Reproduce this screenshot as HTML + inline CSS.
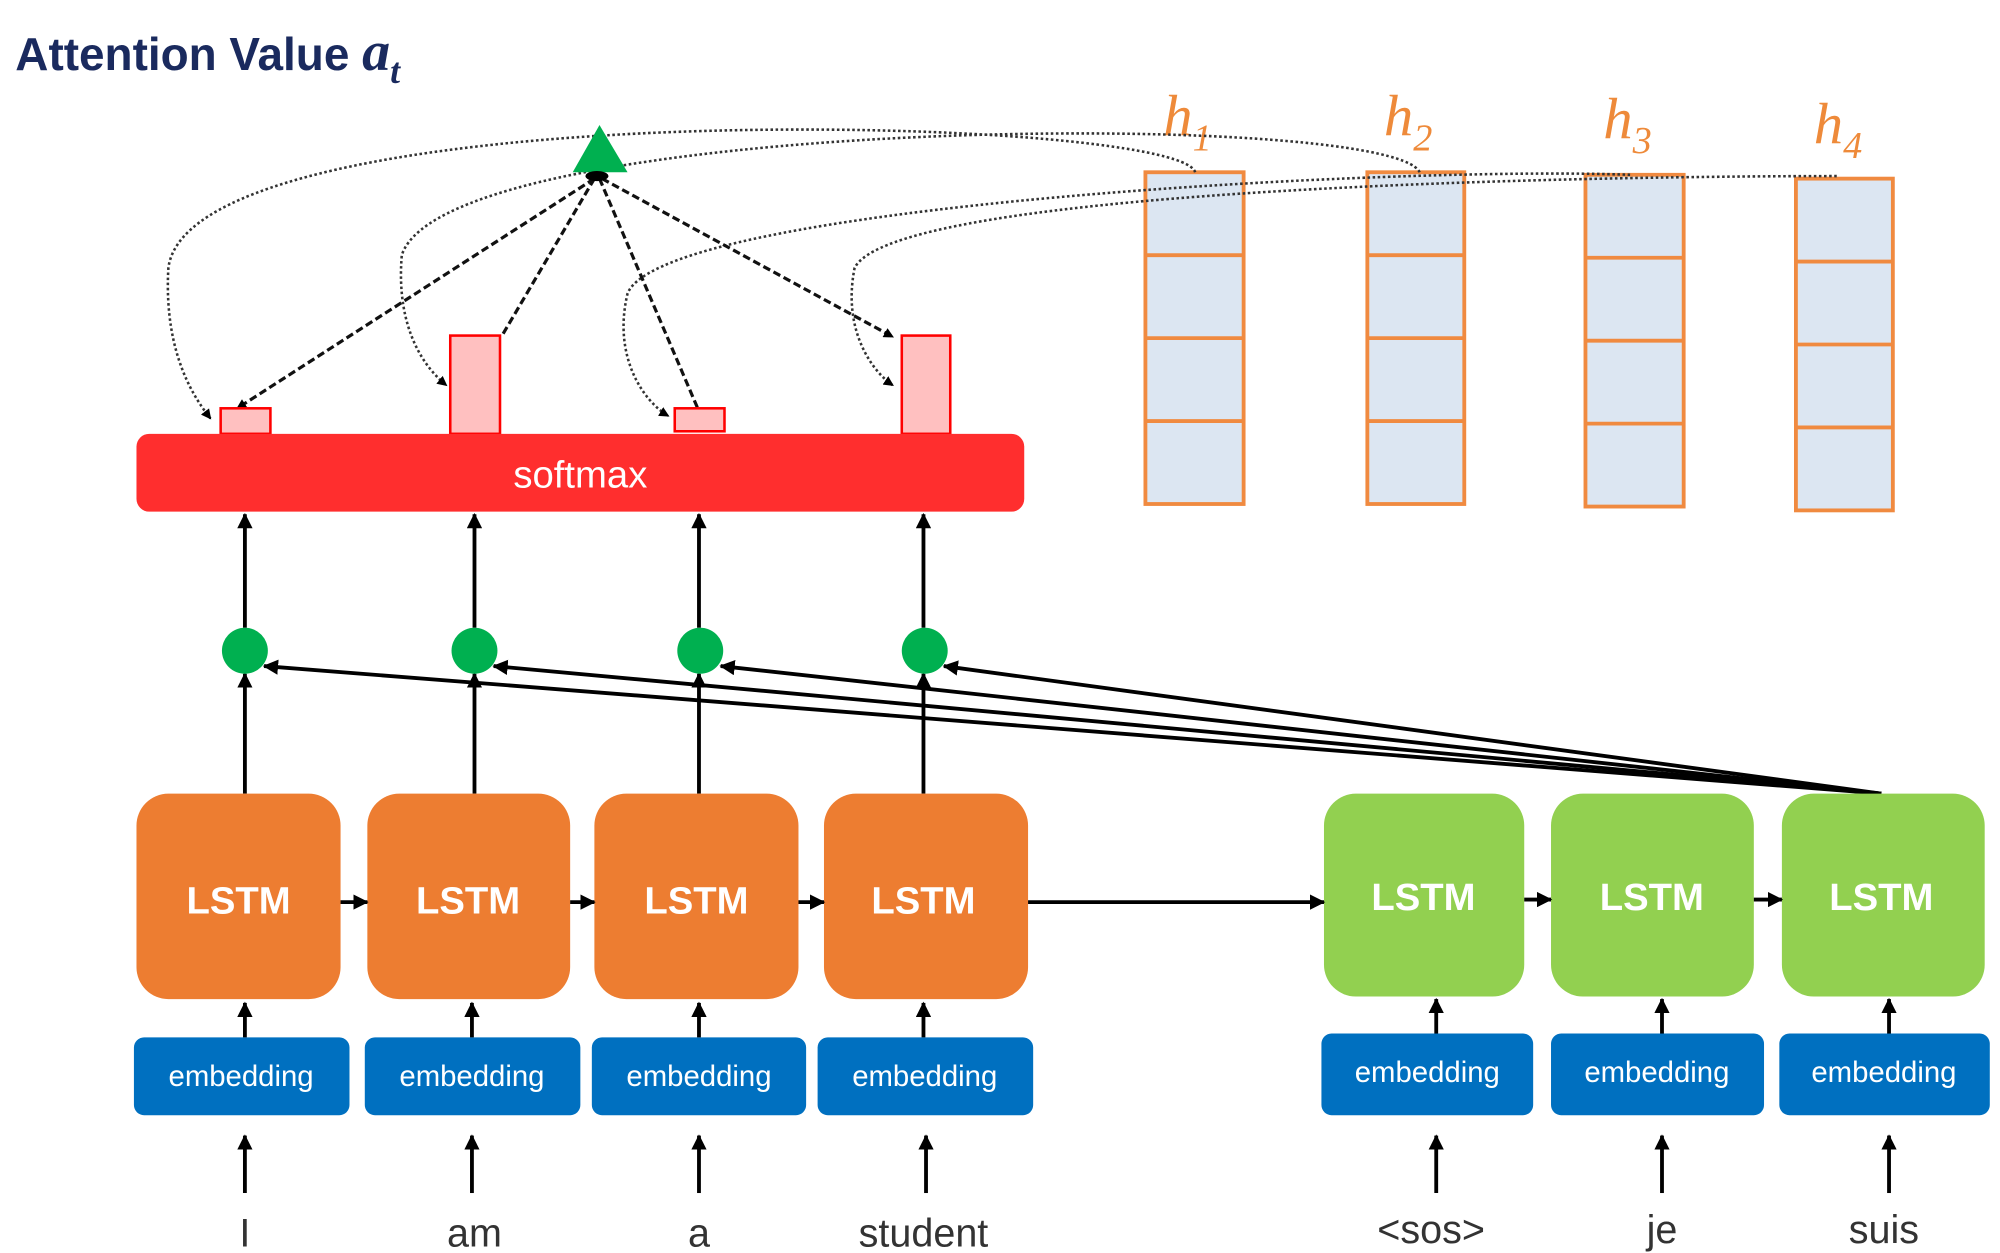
<!DOCTYPE html>
<html><head><style>
html,body{margin:0;padding:0;background:#fff;}
svg{display:block;}
text{font-family:"Liberation Sans",sans-serif;}
.ser{font-family:"Liberation Serif",serif;font-style:italic;}
</style></head><body>
<svg width="2000" height="1253" viewBox="0 0 1568 982" preserveAspectRatio="none" xmlns="http://www.w3.org/2000/svg">
<defs>
<marker id="a" markerWidth="8" markerHeight="8" refX="7" refY="4" orient="auto" markerUnits="userSpaceOnUse"><path d="M0,0 L8,4 L0,8 z" fill="#000"/></marker>
<marker id="b" markerWidth="12" markerHeight="12" refX="11" refY="6" orient="auto" markerUnits="userSpaceOnUse"><path d="M0,0 L12,6 L0,12 z" fill="#000"/></marker>
</defs>
<text x="12" y="55" font-size="36" font-weight="bold" fill="#1a2a5e">Attention Value <tspan class="ser" font-size="44">a</tspan><tspan class="ser" font-size="28" dy="10">t</tspan></text>

<!-- h vectors -->
<g fill="#dce6f2" stroke="#f08a40" stroke-width="3">
<rect x="898" y="135" width="77" height="260"/><line x1="898" y1="200" x2="975" y2="200"/><line x1="898" y1="265" x2="975" y2="265"/><line x1="898" y1="330" x2="975" y2="330"/>
<rect x="1072" y="135" width="76" height="260"/><line x1="1072" y1="200" x2="1148" y2="200"/><line x1="1072" y1="265" x2="1148" y2="265"/><line x1="1072" y1="330" x2="1148" y2="330"/>
<rect x="1243" y="137" width="77" height="260"/><line x1="1243" y1="202" x2="1320" y2="202"/><line x1="1243" y1="267" x2="1320" y2="267"/><line x1="1243" y1="332" x2="1320" y2="332"/>
<rect x="1408" y="140" width="76" height="260"/><line x1="1408" y1="205" x2="1484" y2="205"/><line x1="1408" y1="270" x2="1484" y2="270"/><line x1="1408" y1="335" x2="1484" y2="335"/>
</g>
<g fill="#ee8a3a" font-size="46">
<text class="ser" x="912" y="106">h<tspan font-size="30" dy="12">1</tspan></text>
<text class="ser" x="1085" y="106">h<tspan font-size="30" dy="12">2</tspan></text>
<text class="ser" x="1257" y="108">h<tspan font-size="30" dy="12">3</tspan></text>
<text class="ser" x="1422" y="112">h<tspan font-size="30" dy="12">4</tspan></text>
</g>

<!-- dotted curves -->
<g fill="none" stroke="#333" stroke-width="2" stroke-dasharray="2,2" marker-end="url(#a)">
<path d="M937,135 C925,90 150,70 132,210 C128,280 155,315 165,328"/>
<path d="M1113,135 C1090,85 350,90 315,200 C310,260 335,290 350,302"/>
<path d="M1278,137 C1100,130 520,160 492,230 C480,280 505,315 524,326"/>
<path d="M1440,138 C1200,138 700,150 670,210 C660,260 685,292 700,302"/>
</g>

<!-- dashed lines to bars -->
<g stroke="#111" stroke-width="2.5" stroke-dasharray="6,3" fill="none">
<line x1="466" y1="140" x2="186" y2="320" marker-end="url(#a)"/>
<line x1="466" y1="140" x2="393" y2="264"/>
<line x1="470" y1="140" x2="547" y2="320"/>
<line x1="472" y1="140" x2="700" y2="264" marker-end="url(#a)"/>
</g>
<polygon points="470,98 449,135 492,135" fill="#00b050"/>
<ellipse cx="468" cy="138" rx="9" ry="4" fill="#000"/>

<!-- bars -->
<g fill="#ffc0c0" stroke="#ff0000" stroke-width="2">
<rect x="173" y="320" width="39" height="20"/>
<rect x="353" y="263" width="39" height="77"/>
<rect x="529" y="320" width="39" height="18"/>
<rect x="707" y="263" width="38" height="77"/>
</g>
<rect x="107" y="340" width="696" height="61" rx="10" fill="#ff2e2e"/>
<text x="455" y="382" font-size="30" fill="#fff" text-anchor="middle">softmax</text>

<!-- vertical arrows -->
<g stroke="#000" stroke-width="3" marker-end="url(#b)">
<line x1="192" y1="492" x2="192" y2="403"/><line x1="372" y1="492" x2="372" y2="403"/><line x1="548" y1="492" x2="548" y2="403"/><line x1="724" y1="492" x2="724" y2="403"/>
<line x1="192" y1="622" x2="192" y2="528"/><line x1="372" y1="622" x2="372" y2="528"/><line x1="548" y1="622" x2="548" y2="528"/><line x1="724" y1="622" x2="724" y2="528"/>
</g>
<g fill="#00b050">
<circle cx="192" cy="510" r="18"/><circle cx="372" cy="510" r="18"/><circle cx="549" cy="510" r="18"/><circle cx="725" cy="510" r="18"/>
</g>
<g stroke="#000" stroke-width="3" marker-end="url(#b)">
<line x1="1475" y1="622" x2="207" y2="522"/>
<line x1="1475" y1="622" x2="387" y2="522"/>
<line x1="1475" y1="622" x2="565" y2="522"/>
<line x1="1475" y1="622" x2="740" y2="522"/>
</g>

<!-- LSTMs -->
<g fill="#ed7d31">
<rect x="107" y="622" width="160" height="161" rx="25"/><rect x="288" y="622" width="159" height="161" rx="25"/><rect x="466" y="622" width="160" height="161" rx="25"/><rect x="646" y="622" width="160" height="161" rx="25"/>
</g>
<g fill="#92d050">
<rect x="1038" y="622" width="157" height="159" rx="25"/><rect x="1216" y="622" width="159" height="159" rx="25"/><rect x="1397" y="622" width="159" height="159" rx="25"/>
</g>
<g font-size="30" font-weight="bold" fill="#fff" text-anchor="middle">
<text x="187" y="716">LSTM</text><text x="367" y="716">LSTM</text><text x="546" y="716">LSTM</text><text x="724" y="716">LSTM</text>
<text x="1116" y="713">LSTM</text><text x="1295" y="713">LSTM</text><text x="1475" y="713">LSTM</text>
</g>
<g stroke="#000" stroke-width="3" marker-end="url(#b)">
<line x1="267" y1="707" x2="288" y2="707"/><line x1="447" y1="707" x2="466" y2="707"/><line x1="626" y1="707" x2="646" y2="707"/>
<line x1="806" y1="707" x2="1038" y2="707"/><line x1="1195" y1="705" x2="1216" y2="705"/><line x1="1375" y1="705" x2="1397" y2="705"/>
</g>

<!-- embeddings -->
<g fill="#0070c0">
<rect x="105" y="813" width="169" height="61" rx="8"/><rect x="286" y="813" width="169" height="61" rx="8"/><rect x="464" y="813" width="168" height="61" rx="8"/><rect x="641" y="813" width="169" height="61" rx="8"/>
<rect x="1036" y="810" width="166" height="64" rx="8"/><rect x="1216" y="810" width="167" height="64" rx="8"/><rect x="1395" y="810" width="165" height="64" rx="8"/>
</g>
<g font-size="23" fill="#fff" text-anchor="middle">
<text x="189" y="851">embedding</text><text x="370" y="851">embedding</text><text x="548" y="851">embedding</text><text x="725" y="851">embedding</text>
<text x="1119" y="848">embedding</text><text x="1299" y="848">embedding</text><text x="1477" y="848">embedding</text>
</g>
<g stroke="#000" stroke-width="3" marker-end="url(#b)">
<line x1="192" y1="813" x2="192" y2="786"/><line x1="370" y1="813" x2="370" y2="786"/><line x1="548" y1="813" x2="548" y2="786"/><line x1="724" y1="813" x2="724" y2="786"/>
<line x1="1126" y1="810" x2="1126" y2="783"/><line x1="1303" y1="810" x2="1303" y2="783"/><line x1="1481" y1="810" x2="1481" y2="783"/>
<line x1="192" y1="935" x2="192" y2="890"/><line x1="370" y1="935" x2="370" y2="890"/><line x1="548" y1="935" x2="548" y2="890"/><line x1="726" y1="935" x2="726" y2="890"/>
<line x1="1126" y1="935" x2="1126" y2="890"/><line x1="1303" y1="935" x2="1303" y2="890"/><line x1="1481" y1="935" x2="1481" y2="890"/>
</g>
<g font-size="31" fill="#333" text-anchor="middle">
<text x="192" y="977">I</text><text x="372" y="977">am</text><text x="548" y="977">a</text><text x="724" y="977">student</text>
<text x="1122" y="974">&lt;sos&gt;</text><text x="1303" y="974">je</text><text x="1477" y="974">suis</text>
</g>
</svg>
</body></html>
